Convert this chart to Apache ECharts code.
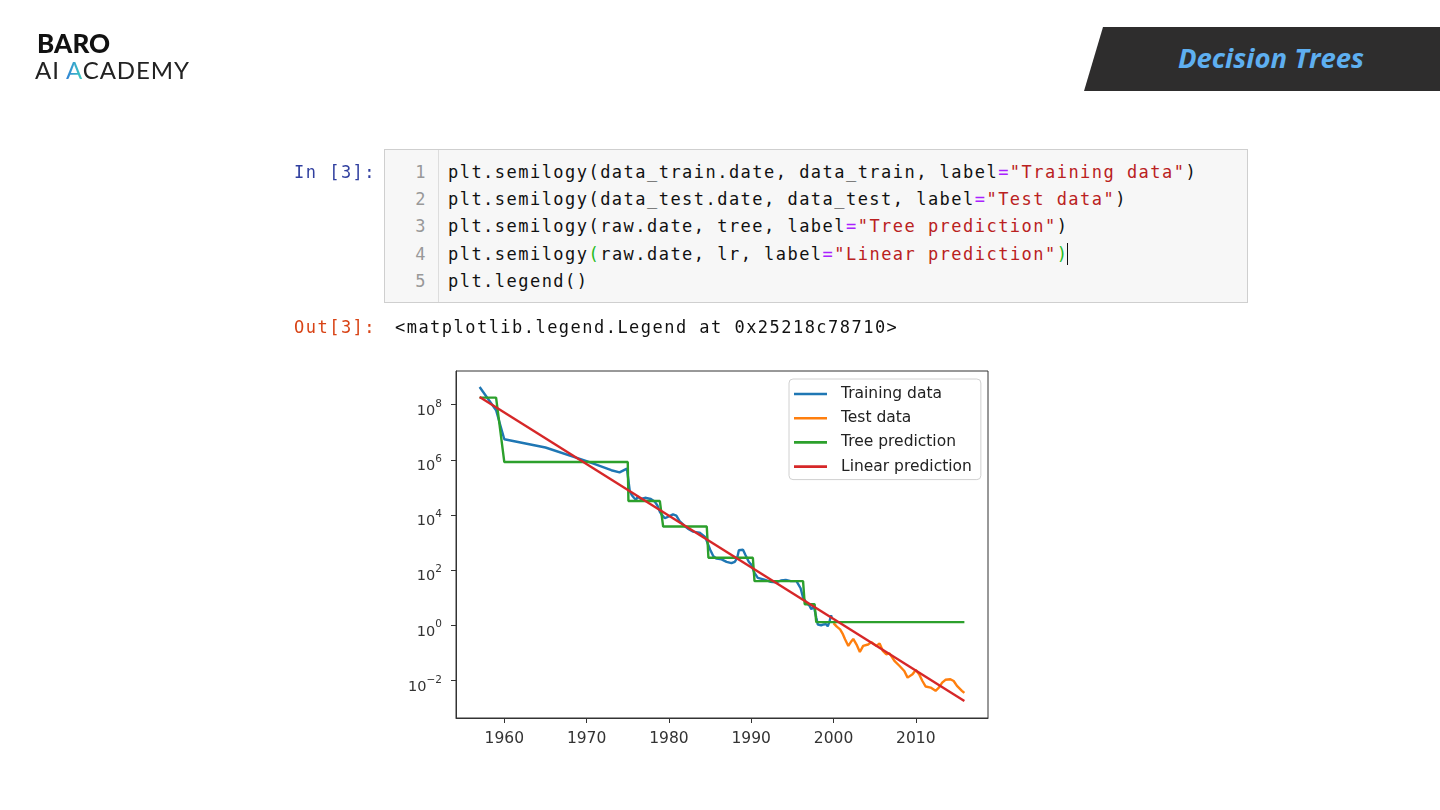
<!DOCTYPE html>
<html>
<head>
<meta charset="utf-8">
<script src="https://cdn.jsdelivr.net/npm/echarts@6.0.0/dist/echarts.min.js"></script>
<style>
  html, body { margin:0; padding:0; background:#fff; }
  #page { position:relative; width:1440px; height:810px; overflow:hidden; background:#fff; }
  #chart { position:absolute; left:0; top:0; width:1440px; height:810px; }
  .abs { position:absolute; }
  .logo1 { left:37px; top:26px; font-family:Lato, "Noto Sans", sans-serif; font-weight:900; font-size:26px; color:#111; letter-spacing:0.1px; line-height:34px; }
  .logo2 { left:35px; top:55px; font-family:Lato, "Noto Sans", sans-serif; font-weight:400; font-size:24px; color:#222; letter-spacing:0.9px; line-height:30px; }
  .logo2 .acc { background:linear-gradient(90deg,#2f7fd6,#3fd0c0); -webkit-background-clip:text; background-clip:text; color:transparent; }
  .banner { left:1084px; top:27px; width:356px; height:64px; background:#2e2d2d; clip-path:polygon(19px 0, 100% 0, 100% 100%, 0 100%); }
  .banner span { position:absolute; left:0; width:100%; top:0; line-height:62px; text-align:center; padding-left:18px; box-sizing:border-box; font-family:"Open Sans", "Noto Sans", sans-serif; font-weight:700; font-style:italic; font-size:27.5px; color:#5eaff0; }
  .mono { font-family:"DejaVu Sans Mono", "Liberation Mono", monospace; font-size:17px; letter-spacing:1.47px; line-height:27.2px; white-space:pre; }
  .prompt { width:90px; text-align:right; left:286px; }
  .cell { left:384px; top:149px; width:864px; height:154px; background:#f7f7f7; border:1px solid #cfcfcf; box-sizing:border-box; }
  .gutter { position:absolute; left:0; top:0; width:54px; height:100%; border-right:1px solid #dddddd; box-sizing:border-box; }
  .lnum { color:#999; text-align:right; width:42px; left:0; top:9px; }
  .code { left:63px; top:9px; color:#111; }
  .eq { color:#aa22ff; } .st { color:#ba2121; } .mb { color:#22bb22; }
  .cur { display:inline-block; width:0; border-left:1.5px solid #111; height:22px; vertical-align:-5px; margin-left:-1px; }
</style>
</head>
<body>
<div id="page">
  <div id="chart"></div>

  <div class="abs logo1">BARO</div>
  <div class="abs logo2">AI <span class="acc">A</span>CADEMY</div>
  <div class="abs banner"><span>Decision Trees</span></div>

  <div class="abs mono prompt" style="top:159px;color:#303f9f;">In [3]:</div>
  <div class="abs cell">
    <div class="gutter"></div>
    <div class="abs mono lnum">1
2
3
4
5</div>
    <div class="abs mono code">plt.semilogy(data_train.date, data_train, label<span class="eq">=</span><span class="st">"Training data"</span>)
plt.semilogy(data_test.date, data_test, label<span class="eq">=</span><span class="st">"Test data"</span>)
plt.semilogy(raw.date, tree, label<span class="eq">=</span><span class="st">"Tree prediction"</span>)
plt.semilogy<span class="mb">(</span>raw.date, lr, label<span class="eq">=</span><span class="st">"Linear prediction"</span><span class="mb">)</span><span class="cur"></span>
plt.legend()</div>
  </div>
  <div class="abs mono prompt" style="top:314px;color:#d84315;">Out[3]:</div>
  <div class="abs mono" style="left:395px;top:314px;color:#111;">&lt;matplotlib.legend.Legend at 0x25218c78710&gt;</div>
</div>

<script>
// ---- data ----
const trainDates = [1957.0, 1959.0, 1960.0, 1965.0, 1970.0, 1973.0, 1974.0, 1974.9, 1975.25, 1975.5, 1975.75, 1976.0, 1976.2, 1976.6, 1977.1, 1977.8, 1978.3, 1978.6, 1978.9, 1979.1, 1979.5, 1980.0, 1980.5, 1980.9, 1981.3, 1981.9, 1982.3, 1982.9, 1983.7, 1984.4, 1985.0, 1985.4, 1985.8, 1986.4, 1987.0, 1987.6, 1988.0, 1988.3, 1988.5, 1989.0, 1989.3, 1989.7, 1990.0, 1990.4, 1990.8, 1991.5, 1992.3, 1993.0, 1993.6, 1994.2, 1994.8, 1995.5, 1996.0, 1996.3, 1996.7, 1997.1, 1997.3, 1997.6, 1997.9, 1998.1, 1998.5, 1998.8, 1999.1, 1999.3, 1999.5, 1999.7, 1999.8];
const trainPrices = [4.4e8, 6.3e7, 5.6e6, 2.8e6, 8.9e5, 4.2e5, 3.5e5, 4.8e5, 7.1e4, 5.2e4, 4.2e4, 3.5e4, 4.6e4, 3.8e4, 4.2e4, 3.8e4, 3.0e4, 2.2e4, 1.3e4, 1.05e4, 7.6e3, 8.9e3, 1.05e4, 9.5e3, 6.0e3, 4.0e3, 3.2e3, 2.5e3, 2.3e3, 1.6e3, 560, 320, 260, 245, 200, 178, 200, 280, 525, 550, 355, 200, 158, 79, 52, 46, 38, 36, 42, 44, 40, 40, 22, 10, 6.6, 5.0, 3.8, 5.0, 1.9, 1.05, 1.0, 1.07, 1.1, 0.91, 1.32, 2.3, 1.8];

const testDates = [2000.0, 2000.4, 2000.8, 2001.1, 2001.4, 2001.8, 2002.2, 2002.4, 2002.8, 2003.2, 2003.6, 2004.2, 2004.6, 2005.2, 2005.6, 2006.0, 2006.4, 2006.8, 2007.4, 2008.0, 2008.6, 2009.0, 2009.6, 2010.0, 2010.4, 2010.8, 2011.2, 2011.8, 2012.4, 2012.8, 2013.2, 2013.6, 2014.2, 2014.6, 2015.0, 2015.6, 2015.9];
const testPrices = [1.2, 0.89, 0.71, 0.50, 0.31, 0.178, 0.27, 0.32, 0.20, 0.107, 0.178, 0.20, 0.245, 0.178, 0.22, 0.117, 0.089, 0.095, 0.051, 0.034, 0.022, 0.0126, 0.0166, 0.024, 0.0166, 0.0095, 0.006, 0.0055, 0.0042, 0.0055, 0.0083, 0.0105, 0.011, 0.0095, 0.0063, 0.0042, 0.0035];

const treeDates = [1957.0, 1959.0, 1960.0, 1975.0, 1975.08, 1978.9, 1979.3, 1984.6, 1984.8, 1990.2, 1990.4, 1996.3, 1996.5, 1997.7, 1997.9, 2015.9];
const treePrices = [1.8e8, 1.8e8, 8.3e5, 8.3e5, 3.2e4, 3.2e4, 3.8e3, 3.8e3, 280, 280, 40, 40, 5.8, 5.8, 1.3, 1.3];

const linearDates = [1957.0, 2015.9];
const linearPrices = [1.9e8, 1.8e-3];

const seriesNames = ["Training data", "Test data", "Tree prediction", "Linear prediction"];
const xTicks = [1960, 1970, 1980, 1990, 2000, 2010];
const xTickLabels = ["1960", "1970", "1980", "1990", "2000", "2010"];
const yTicks = [1e-2, 1, 1e2, 1e4, 1e6, 1e8];
const yTickBase = "10";
const yTickExponents = ["\u22122", "0", "2", "4", "6", "8"];

// ---- chart ----
const colors = ["#1f77b4", "#ff7f0e", "#2ca02c", "#d62728"];
const pairs = (xs, ys) => xs.map((x, i) => [x, ys[i]]);
const seriesData = [pairs(trainDates, trainPrices), pairs(testDates, testPrices), pairs(treeDates, treePrices), pairs(linearDates, linearPrices)];

const chart = echarts.init(document.getElementById('chart'));
const axisColor = '#333';
chart.setOption({
  animation: false,
  textStyle: { fontFamily: 'DejaVu Sans' },
  grid: { left: 456, top: 371, width: 532, height: 347, show: true, borderColor: axisColor, borderWidth: 1 },
  xAxis: {
    type: 'value', min: 1954.13, max: 2018.77,
    axisLine: { show: true, onZero: false, lineStyle: { color: axisColor, width: 1 } },
    axisTick: { show: true, length: 5, customValues: xTicks, lineStyle: { color: axisColor } },
    axisLabel: {
      customValues: xTicks, fontSize: 15.5, color: '#333', margin: 13, fontFamily: 'DejaVu Sans',
      formatter: function (v) {
        const idx = xTicks.findIndex(t => Math.abs(t - v) < 1e-6);
        return idx >= 0 ? xTickLabels[idx] : '';
      }
    },
    splitLine: { show: false }
  },
  yAxis: {
    type: 'log', logBase: 10, min: Math.pow(10, -3.364), max: Math.pow(10, 9.222),
    axisLine: { show: true, onZero: false, lineStyle: { color: axisColor, width: 1 } },
    axisTick: { show: true, length: 5, customValues: yTicks, lineStyle: { color: axisColor } },
    axisLabel: {
      customValues: yTicks, color: '#333', margin: 14, fontFamily: 'DejaVu Sans',
      padding: [8, 0, 0, 0],
      formatter: function (v) {
        const e = Math.round(Math.log10(v));
        const idx = yTicks.findIndex(t => Math.round(Math.log10(t)) === e);
        return idx >= 0 ? '{b|' + yTickBase + '}{s|' + yTickExponents[idx] + '}' : '';
      },
      rich: {
        b: { fontSize: 14.5, lineHeight: 20, verticalAlign: 'bottom', color: '#333', fontFamily: 'DejaVu Sans' },
        s: { fontSize: 10.5, lineHeight: 11, verticalAlign: 'top', color: '#333', fontFamily: 'DejaVu Sans' }
      }
    },
    splitLine: { show: false },
    minorTick: { show: false }
  },
  legend: {
    orient: 'vertical', left: 789, top: 379,
    data: seriesNames,
    icon: 'rect',
    itemWidth: 33, itemHeight: 2.6, itemGap: 6.2,
    padding: [6, 9, 4, 5],
    backgroundColor: 'rgba(255,255,255,0.8)',
    borderColor: '#d0d0d0', borderWidth: 1, borderRadius: 4,
    textStyle: { fontSize: 15.5, lineHeight: 18, color: '#222', fontFamily: 'DejaVu Sans', padding: [0, 0, 0, 9] }
  },
  series: seriesNames.map((name, i) => ({
    name: name, type: 'line', data: seriesData[i],
    showSymbol: false, symbol: 'none', smooth: false,
    lineStyle: { color: colors[i], width: 2.4 },
    itemStyle: { color: colors[i] },
    z: 2 + i
  }))
});
</script>
</body>
</html>
